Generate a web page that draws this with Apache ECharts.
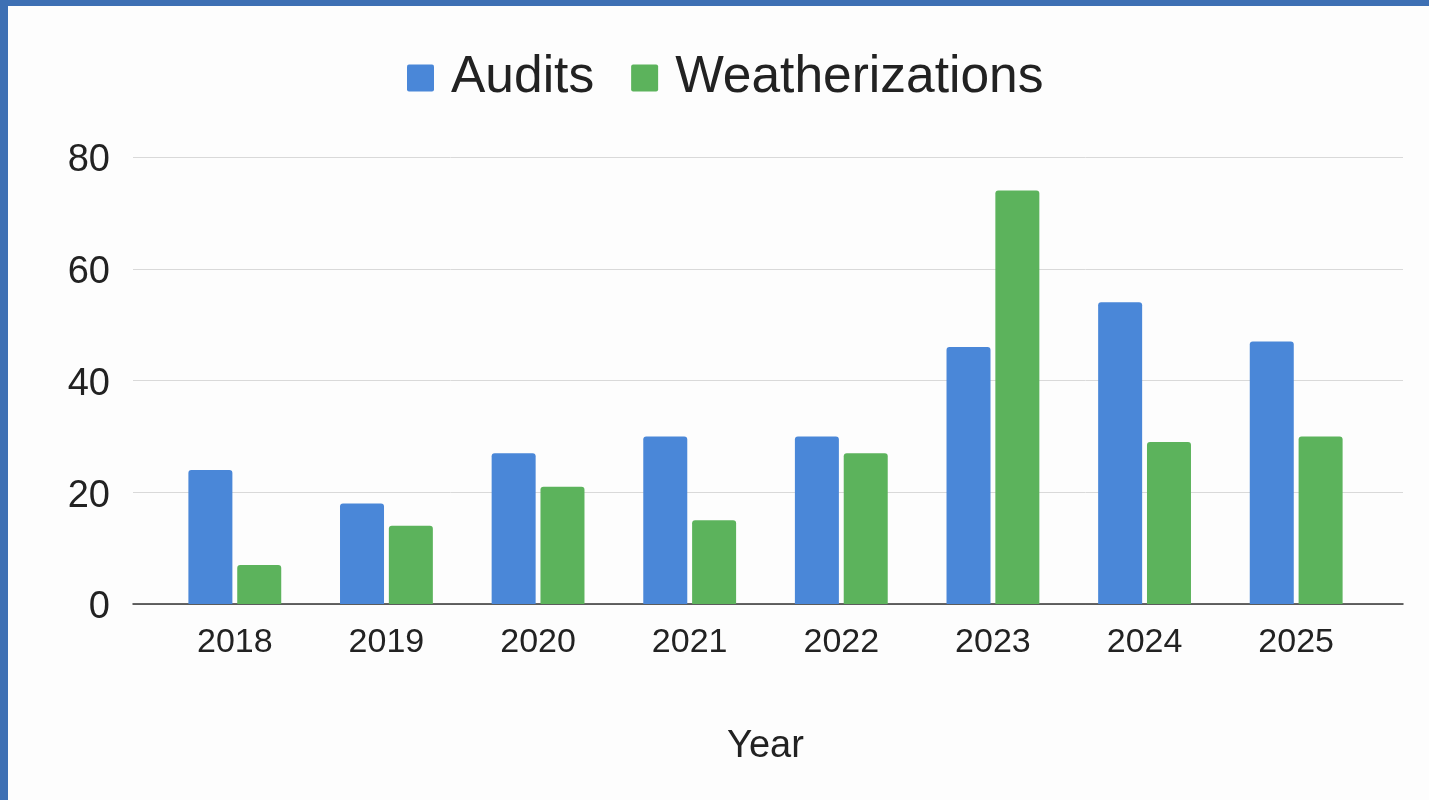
<!DOCTYPE html>
<html>
<head>
<meta charset="utf-8">
<script src="https://cdn.jsdelivr.net/npm/echarts@6/dist/echarts.min.js"></script>
<style>
html,body{margin:0;padding:0;background:#fdfdfd;}
#frameL{position:absolute;left:0;top:0;width:8px;height:800px;background:#3e70b4;}
#frameT{position:absolute;left:0;top:0;width:1429px;height:6px;background:#3e70b4;}
#chart{position:absolute;left:0;top:0;width:1429px;height:800px;}
</style>
</head>
<body>
<div id="chart"></div>
<div id="frameL"></div>
<div id="frameT"></div>
<script>
const years = ['2018','2019','2020','2021','2022','2023','2024','2025'];
const audits = [24, 18, 27, 30, 30, 46, 54, 47];
const weatherizations = [7, 14, 21, 15, 27, 74, 29, 30];
const yTicks = {min: 0, max: 80, interval: 20};
const xTitle = 'Year';

const font = '"Liberation Sans", Arial, sans-serif';
const chart = echarts.init(document.getElementById('chart'));
chart.setOption({
  backgroundColor: 'transparent',
  animation: false,
  legend: {
    left: 402, top: 47,
    itemWidth: 27, itemHeight: 27, itemGap: 37,
    icon: 'path://M2,0 L25,0 Q27,0 27,2 L27,25 Q27,27 25,27 L2,27 Q0,27 0,25 L0,2 Q0,0 2,0 Z',
    textStyle: {fontFamily: font, fontSize: 51.5, color: '#222', padding: [0,0,0,12]},
    data: ['Audits', 'Weatherizations']
  },
  grid: [
    {left: 133, right: 26, top: 157, bottom: 196},
    {left: 159, right: 57, top: 157, bottom: 196}
  ],
  xAxis: [
    {gridIndex: 0, type: 'value', min: 0, max: 1,
     axisLine: {show: true, onZero: false, lineStyle: {color: '#333', width: 1.5}},
     axisTick: {show: false}, axisLabel: {show: false}, splitLine: {show: false}},
    {gridIndex: 1, type: 'category', data: years,
     axisLine: {show: false}, axisTick: {show: false},
     axisLabel: {fontFamily: font, fontSize: 34, color: '#222', margin: 22},
     name: xTitle, nameLocation: 'middle', nameGap: 124,
     nameTextStyle: {fontFamily: font, fontSize: 38, color: '#222'}}
  ],
  yAxis: [
    {gridIndex: 0, type: 'value', min: yTicks.min, max: yTicks.max, interval: yTicks.interval,
     axisLine: {show: false}, axisTick: {show: false},
     axisLabel: {margin: 23, formatter: '{a|{value}}',
       rich: {a: {fontFamily: font, fontSize: 38, color: '#222', padding: [8,0,0,0]}}},
     splitLine: {lineStyle: {color: '#d9d9d9', width: 1}}},
    {gridIndex: 1, type: 'value', min: yTicks.min, max: yTicks.max, interval: yTicks.interval,
     show: false, splitLine: {show: false}}
  ],
  series: [
    {name: 'Audits', type: 'bar', xAxisIndex: 1, yAxisIndex: 1, data: audits,
     barWidth: 44, barGap: '11%',
     itemStyle: {color: '#4a87d8', borderRadius: [3,3,0,0]}},
    {name: 'Weatherizations', type: 'bar', xAxisIndex: 1, yAxisIndex: 1, data: weatherizations,
     barWidth: 44, barGap: '11%',
     itemStyle: {color: '#5cb35c', borderRadius: [3,3,0,0]}}
  ]
});
</script>
</body>
</html>
